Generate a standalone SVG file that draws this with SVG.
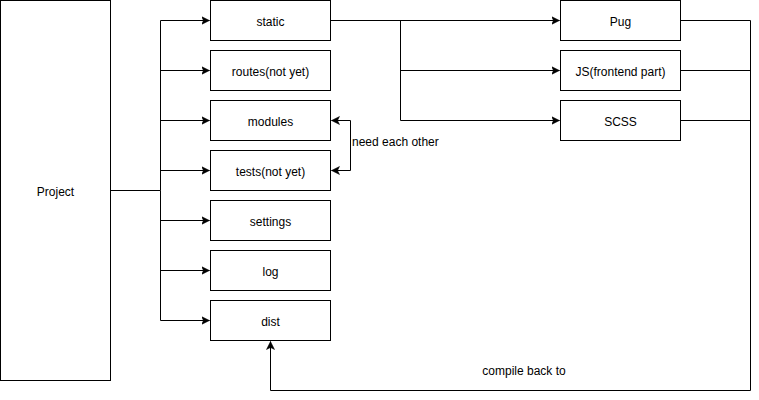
<svg xmlns="http://www.w3.org/2000/svg" width="759" height="400" viewBox="0 0 759 400">
<style>
.box{fill:#fff;stroke:#000;stroke-width:1}
.lbl{font-family:"Liberation Sans",Arial,sans-serif;font-size:12px;fill:#000;text-anchor:middle;dominant-baseline:central}
.edge{fill:none;stroke:#000;stroke-width:1}
</style>
<defs>
<marker id="arr" markerWidth="10" markerHeight="10" refX="8" refY="5" orient="auto" markerUnits="userSpaceOnUse">
<path d="M0,1 L8,5 L0,9 L2,5 Z" fill="#000" stroke="#000" stroke-width="0.5"/>
</marker>
</defs>
<rect width="759" height="400" fill="#fff"/>
<g id="connectors">
<path class="edge" d="M110.5,190.5 H160.5 V20.5 H209.5" marker-end="url(#arr)"/>
<path class="edge" d="M160.5,70.5 H209.5" marker-end="url(#arr)"/>
<path class="edge" d="M160.5,120.5 H209.5" marker-end="url(#arr)"/>
<path class="edge" d="M160.5,170.5 H209.5" marker-end="url(#arr)"/>
<path class="edge" d="M160.5,190.5 V320.5 H209.5" marker-end="url(#arr)"/>
<path class="edge" d="M160.5,220.5 H209.5" marker-end="url(#arr)"/>
<path class="edge" d="M160.5,270.5 H209.5" marker-end="url(#arr)"/>
<path class="edge" d="M330.5,20.5 H559.5" marker-end="url(#arr)"/>
<path class="edge" d="M400.5,20.5 V120.5"/>
<path class="edge" d="M400.5,70.5 H559.5" marker-end="url(#arr)"/>
<path class="edge" d="M400.5,120.5 H559.5" marker-end="url(#arr)"/>
<path class="edge" d="M350.5,120.5 V170.5"/>
<path class="edge" d="M350.5,120.5 H331.5" marker-end="url(#arr)"/>
<path class="edge" d="M350.5,170.5 H331.5" marker-end="url(#arr)"/>
<path class="edge" d="M680.5,20.5 H750.5 V390.5 H270.5 V341.5" marker-end="url(#arr)"/>
<path class="edge" d="M680.5,70.5 H750.5"/>
<path class="edge" d="M680.5,120.5 H750.5"/>
<text x="352" y="142" class="lbl" style="text-anchor:start">need each other</text>
<text x="524" y="371" class="lbl">compile back to</text>
</g>
<g id="project"><rect class="box" x="0.5" y="0.5" width="110" height="380"/><text class="lbl" x="55.5" y="192">Project</text></g>
<g id="static"><rect class="box" x="210.5" y="0.5" width="120" height="40"/><text class="lbl" x="270.5" y="22">static</text></g>
<g id="routes"><rect class="box" x="210.5" y="50.5" width="120" height="40"/><text class="lbl" x="270.5" y="72">routes(not yet)</text></g>
<g id="modules"><rect class="box" x="210.5" y="100.5" width="120" height="40"/><text class="lbl" x="270.5" y="122">modules</text></g>
<g id="tests"><rect class="box" x="210.5" y="150.5" width="120" height="40"/><text class="lbl" x="270.5" y="172">tests(not yet)</text></g>
<g id="settings"><rect class="box" x="210.5" y="200.5" width="120" height="40"/><text class="lbl" x="270.5" y="222">settings</text></g>
<g id="log"><rect class="box" x="210.5" y="250.5" width="120" height="40"/><text class="lbl" x="270.5" y="272">log</text></g>
<g id="dist"><rect class="box" x="210.5" y="300.5" width="120" height="40"/><text class="lbl" x="270.5" y="322">dist</text></g>
<g id="pug"><rect class="box" x="560.5" y="0.5" width="120" height="40"/><text class="lbl" x="620.5" y="22">Pug</text></g>
<g id="js"><rect class="box" x="560.5" y="50.5" width="120" height="40"/><text class="lbl" x="620.5" y="72">JS(frontend part)</text></g>
<g id="scss"><rect class="box" x="560.5" y="100.5" width="120" height="40"/><text class="lbl" x="620.5" y="122">SCSS</text></g>
</svg>
